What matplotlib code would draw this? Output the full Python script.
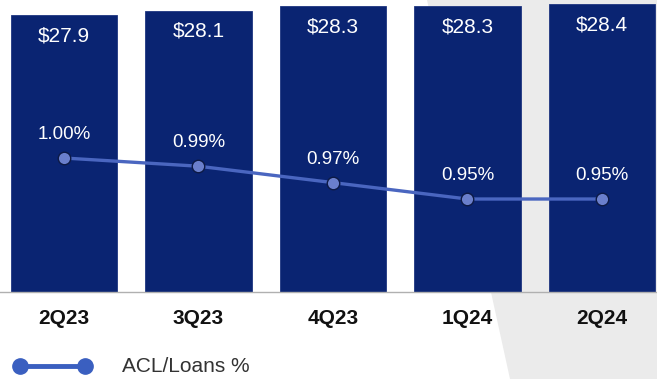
import matplotlib
matplotlib.use("Agg")
import matplotlib.pyplot as plt
from matplotlib.patches import Polygon
from matplotlib.lines import Line2D

plt.rcParams['font.family'] = ['Liberation Sans', 'DejaVu Sans']

quarters = ["2Q23", "3Q23", "4Q23", "1Q24", "2Q24"]
acl_balance = [27.9, 28.1, 28.3, 28.3, 28.4]        # $ billions
acl_to_loans = [1.00, 0.99, 0.97, 0.95, 0.95]       # percent

W, H = 657, 379
fig = plt.figure(figsize=(W / 100, H / 100), dpi=100)

# light gray backdrop panel on the right
bg = fig.add_axes([0, 0, 1, 1])
bg.set_xlim(0, W)
bg.set_ylim(H, 0)
bg.axis("off")
bg.add_patch(Polygon([(427, 0), (W, 0), (W, H), (510, H)], closed=True,
                     facecolor="#ebebeb", edgecolor="none"))

ax_bottom = (H - 292) / H
ax = fig.add_axes([0, ax_bottom, 1, 1 - ax_bottom])
ax.patch.set_alpha(0)
x = list(range(len(quarters)))
navy = "#0a2472"
bars = ax.bar(x, acl_balance, width=0.79, color=navy, edgecolor="#1e3580",
              linewidth=0.6, zorder=2)
ax.set_xlim(-0.476, 4.41)
ax.set_ylim(15.3, 28.58)
for xi, v in zip(x, acl_balance):
    ax.annotate(f"${v:.1f}", (xi, v), xytext=(0, -15), textcoords="offset points",
                ha="center", va="center", color="white", fontsize=15, zorder=5)

for s in ["top", "right", "left"]:
    ax.spines[s].set_visible(False)
ax.spines["bottom"].set_color("#b0b0b0")
ax.spines["bottom"].set_linewidth(1.0)
ax.set_yticks([])
ax.set_xticks(x)
ax.set_xticklabels(quarters, fontsize=15, fontweight="bold", color="#111111")
ax.tick_params(axis="x", length=0, pad=12)

ax2 = ax.twinx()
ax2.set_ylim(0.8366, 1.1927)
ax2.axis("off")
line_color = "#4a66c0"
ax2.plot(x, acl_to_loans, color=line_color, linewidth=2.4, marker="o",
         markersize=9, markerfacecolor="#6a7fcc", markeredgecolor="#0d1a45",
         markeredgewidth=1.0, zorder=4)
for xi, v in zip(x, acl_to_loans):
    ax2.annotate(f"{v:.2f}%", (xi, v), xytext=(0, 17), textcoords="offset points",
                 ha="center", va="center", color="white", fontsize=13.5, zorder=5)

# legend drawn below the chart
bg.add_line(Line2D([20, 85], [366, 366], color="#3a5fc0", linewidth=3.5,
                   marker="o", markersize=11, markevery=[0, 1],
                   markerfacecolor="#3a5fc0", markeredgecolor="#3a5fc0"))
bg.text(122, 367, "ACL/Loans %", fontsize=15, color="#333333",
        ha="left", va="center")

fig.savefig("out.png", dpi=100)
